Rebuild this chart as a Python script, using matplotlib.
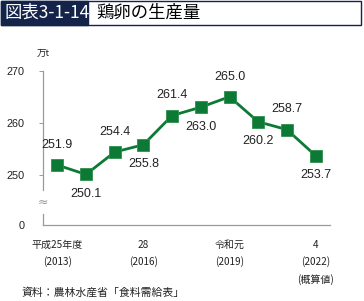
import numpy as np
import matplotlib
matplotlib.use('Agg')
import matplotlib.pyplot as plt
from matplotlib.patches import Rectangle

plt.rcParams['font.family'] = ['Liberation Sans', 'Noto Sans CJK JP', 'DejaVu Sans']

# data
years = [2013, 2014, 2015, 2016, 2017, 2018, 2019, 2020, 2021, 2022]
production = [251.9, 250.1, 254.4, 255.8, 261.4, 263.0, 265.0, 260.2, 258.7, 253.7]
label_above = [True, False, True, False, True, False, True, False, True, False]
tick_years = [2013, 2016, 2019, 2022]
tick_labels = ['平成25年度\n(2013)', '28\n(2016)', '令和元\n(2019)', '4\n(2022)']
yticks = [250, 260, 270]

GREEN = '#0c7a34'
NAVY = '#14234a'
GREY = '#9a9a9a'

fig = plt.figure(figsize=(3.64, 3.01), dpi=100)

# title bar
fig.patches.append(Rectangle((0.002, 0.917), 0.991, 0.08, transform=fig.transFigure,
                             facecolor='white', edgecolor=NAVY, linewidth=1.0))
fig.patches.append(Rectangle((0.002, 0.917), 0.240, 0.08, transform=fig.transFigure,
                             facecolor=NAVY, edgecolor=NAVY, linewidth=1.0))
fig.text(0.012, 0.957, '図表3-1-14', color='white', fontsize=12.5, va='center',
         family=['Noto Sans CJK JP'])
fig.text(0.265, 0.957, '鶏卵の生産量', color='black', fontsize=12.5, va='center',
         family=['Noto Sans CJK JP'])

ax = fig.add_axes([0.118, 0.2525, 0.7885, 0.5126])
ybot = 240.4
ax.set_ylim(ybot, 270)
ax.set_xlim(2012.5, 2022.5)

ax.plot(years, production, color=GREEN, lw=2, marker='s', ms=8,
        mfc=GREEN, mec='#2e8f4e', mew=0.6, zorder=3)

for x, y, up in zip(years, production, label_above):
    off = 14.5 if up else -14
    ax.annotate(f'{y:.1f}', (x, y), xytext=(0, off), textcoords='offset points',
                ha='center', va='center', fontsize=9, color='#222222')

for s in ['top', 'right']:
    ax.spines[s].set_visible(False)
ax.spines['bottom'].set_color(GREY)
ax.spines['left'].set_color(GREY)
ax.spines['bottom'].set_linewidth(0.9)
ax.spines['left'].set_linewidth(0.9)

# broken axis
brk_top, brk_bot = 247.1, 242.5
ax.spines['left'].set_bounds(brk_top, 270)
ax.plot([2012.5, 2012.5], [ybot, brk_bot], color=GREY, lw=0.9, clip_on=False)
ax.text(2012.5, (brk_top + brk_bot) / 2, '≈', color=GREY, ha='center', va='center',
        fontsize=9, family=['DejaVu Sans'])

ax.set_yticks(yticks + [ybot])
ax.set_yticklabels([str(v) for v in yticks] + ['0'])
ax.tick_params(axis='y', length=3, width=0.7, color=GREY, pad=10, labelsize=7.8,
               labelcolor='#222222')
ax.yaxis.get_major_ticks()[-1].tick1line.set_visible(False)

ax.set_xticks(tick_years)
ax.set_xticklabels(tick_labels, family=['Noto Sans CJK JP'], fontsize=7.2,
                   linespacing=1.7, color='#222222')
ax.tick_params(axis='x', length=0, pad=11)

fig.text(0.866, 0.07, '(概算値)', ha='center', va='center', fontsize=7.2,
         family=['Noto Sans CJK JP'], color='#222222')
fig.text(0.118, 0.822, '万t', ha='center', va='center', fontsize=6.8,
         family=['Noto Sans CJK JP'], color='#222222')
fig.text(0.06, 0.027, '資料：農林水産省「食料需給表」', ha='left', va='center', fontsize=7.8,
         family=['Noto Sans CJK JP'], color='#222222')

fig.savefig('out.png', dpi=100)
